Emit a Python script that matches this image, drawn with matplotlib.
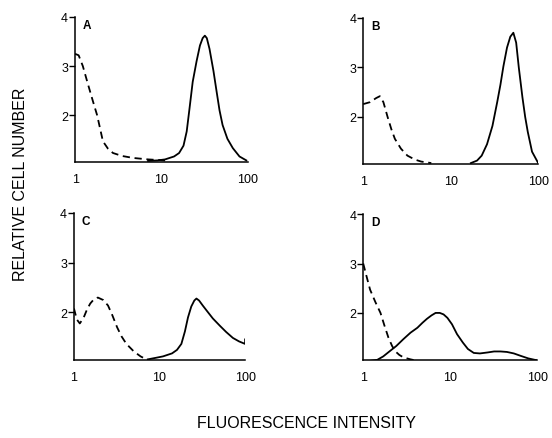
import numpy as np
import matplotlib
matplotlib.use("Agg")
import matplotlib.pyplot as plt

plt.rcParams["font.family"] = ["Liberation Sans", "DejaVu Sans"]

# ---- data (x = fluorescence, y = relative cell number) ----
a_dash_x = [1.0, 1.1, 1.23, 1.4, 1.6, 1.8, 2.1, 2.4, 2.75, 3.5, 4.7, 7.0, 11.0]
a_dash_y = [3.25, 3.22, 3.0, 2.65, 2.3, 2.0, 1.47, 1.32, 1.23, 1.17, 1.13, 1.1, 1.08]
a_sol_x = [7.0, 9.0, 11.0, 14.0, 16.0, 18.0, 19.6, 21.0, 23.0, 25.5, 27.9, 30.0, 31.8, 33.5,
           36.0, 40.0, 43.5, 47.0, 51.0, 58.0, 67.0, 80.0, 96.0]
a_sol_y = [1.07, 1.08, 1.1, 1.16, 1.23, 1.38, 1.67, 2.1, 2.68, 3.1, 3.42, 3.57, 3.62, 3.57,
           3.35, 2.9, 2.48, 2.1, 1.8, 1.52, 1.33, 1.16, 1.08]

b_dash_x = [1.0, 1.2, 1.4, 1.55, 1.7, 1.9, 2.1, 2.3, 2.7, 3.2, 3.9, 4.6, 6.0]
b_dash_y = [2.26, 2.3, 2.38, 2.42, 2.3, 2.0, 1.75, 1.56, 1.36, 1.22, 1.14, 1.1, 1.07]
b_sol_x = [17.0, 20.0, 22.6, 26.0, 30.0, 34.0, 37.0, 40.0, 44.0, 48.0, 52.0, 56.0,
           60.0, 66.0, 71.0, 76.0, 85.0, 100.0]
b_sol_y = [1.07, 1.12, 1.22, 1.45, 1.82, 2.3, 2.65, 3.02, 3.4, 3.62, 3.7, 3.5,
           3.0, 2.4, 2.0, 1.7, 1.3, 1.07]

c_dash_x = [1.0, 1.08, 1.17, 1.3, 1.42, 1.55, 1.7, 1.9, 2.2, 2.5, 2.8, 3.2, 3.6, 4.1,
            5.0, 6.0, 7.0, 7.8]
c_dash_y = [2.08, 1.86, 1.78, 1.9, 2.06, 2.18, 2.26, 2.3, 2.25, 2.14, 1.95, 1.7, 1.52, 1.37,
            1.22, 1.12, 1.06, 1.03]
c_sol_x = [7.3, 9.0, 11.0, 14.0, 16.0, 18.0, 19.8, 21.5, 23.5, 25.5, 27.0, 29.0, 32.0,
           35.5, 42.0, 51.0, 60.0, 72.0, 85.0, 100.0, 100.0]
c_sol_y = [1.06, 1.09, 1.12, 1.18, 1.25, 1.37, 1.62, 1.9, 2.12, 2.24, 2.28, 2.24, 2.14,
           2.04, 1.88, 1.73, 1.61, 1.49, 1.42, 1.37, 1.46]

d_dash_x = [1.0, 1.1, 1.2, 1.38, 1.58, 1.75, 1.95, 2.15, 2.35, 2.6, 2.9, 3.5, 4.2, 5.5]
d_dash_y = [3.0, 2.72, 2.47, 2.22, 2.0, 1.75, 1.5, 1.33, 1.22, 1.15, 1.1, 1.06, 1.03, 1.02]
d_sol_x = [1.0, 1.2, 1.45, 1.7, 2.0, 2.4, 2.9, 3.5, 4.2, 4.8, 5.4, 6.1, 6.8, 7.6, 8.4,
           9.3, 10.5, 12.0, 14.0, 16.0, 18.7, 22.0, 27.0, 32.0, 38.0, 45.0, 54.0, 65.0,
           79.0, 100.0]
d_sol_y = [1.02, 1.03, 1.05, 1.12, 1.22, 1.33, 1.47, 1.6, 1.7, 1.8, 1.88, 1.95, 2.0, 2.0, 1.97,
           1.9, 1.77, 1.57, 1.4, 1.27, 1.19, 1.18, 1.2, 1.22, 1.22, 1.21, 1.18, 1.13,
           1.08, 1.04]

panel_letters = ["A", "B", "C", "D"]
x_ticks = [1, 10, 100]
x_ticklabels = ["1", "10", "100"]
y_ticks = [2, 3, 4]

curves = [
    (a_dash_x, a_dash_y, a_sol_x, a_sol_y),
    (b_dash_x, b_dash_y, b_sol_x, b_sol_y),
    (c_dash_x, c_dash_y, c_sol_x, c_sol_y),
    (d_dash_x, d_dash_y, d_sol_x, d_sol_y),
]

# axes boxes in figure fractions [left, bottom, width, height]
boxes = [
    [0.136, 0.629, 0.313, 0.330],
    [0.658, 0.624, 0.317, 0.333],
    [0.134, 0.178, 0.310, 0.335],
    [0.658, 0.178, 0.315, 0.332],
]

fig = plt.figure(figsize=(5.52, 4.39), dpi=100)

for (dx, dy, sx, sy), box, letter in zip(curves, boxes, panel_letters):
    ax = fig.add_axes(box)
    ax.plot(dx, dy, color="black", lw=1.3, ls=(0, (4, 2.6)), solid_capstyle="butt")
    ax.plot(sx, sy, color="black", lw=1.3)
    ax.set_xscale("log")
    ax.set_xlim(1, 100)
    ax.set_ylim(1.05, 4)
    ax.spines[["top", "right"]].set_visible(False)
    for s in ("left", "bottom"):
        ax.spines[s].set_linewidth(1.1)
    ax.set_xticks(x_ticks)
    ax.set_xticklabels(x_ticklabels)
    ax.xaxis.set_minor_locator(matplotlib.ticker.NullLocator())
    ax.tick_params(axis="x", length=0, pad=8, labelsize=9)
    ax.set_yticks(y_ticks)
    ax.tick_params(axis="y", length=4, width=1, pad=1, labelsize=9)
    ax.text(0.045, 0.985, letter, transform=ax.transAxes, fontsize=8.5,
            fontweight="bold", va="top", ha="left")

fig.text(0.038, 0.58, "RELATIVE CELL NUMBER", rotation=90, ha="center", va="center",
         fontsize=11.5)
fig.text(0.555, 0.035, "FLUORESCENCE INTENSITY", ha="center", va="center", fontsize=11.5)

fig.savefig("out.png", dpi=100)
